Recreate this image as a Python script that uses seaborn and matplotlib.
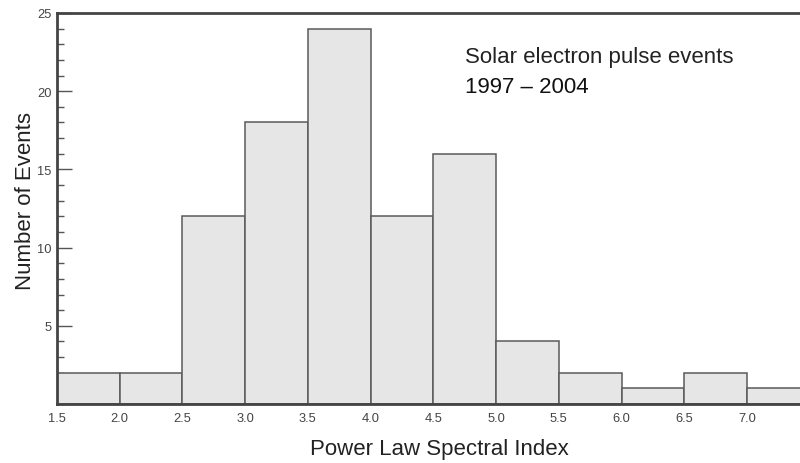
import numpy as np
import pandas as pd
import matplotlib
matplotlib.use("Agg")
import matplotlib.pyplot as plt
import seaborn as sns
from matplotlib.ticker import MultipleLocator, FixedLocator

bin_edges = [1.5, 2.0, 2.5, 3.0, 3.5, 4.0, 4.5, 5.0, 5.5, 6.0, 6.5, 7.0, 7.5]
counts = [2, 2, 12, 18, 24, 12, 16, 4, 2, 1, 2, 1]
x_tick_labels = ["1.5", "2.0", "2.5", "3.0", "3.5", "4.0", "4.5", "5.0", "5.5", "6.0", "6.5", "7.0"]
y_tick_labels = ["5", "10", "15", "20", "25"]

centers = [(a + b) / 2 for a, b in zip(bin_edges[:-1], bin_edges[1:])]
df = pd.DataFrame({"index": centers, "n": counts})

sns.set_style("white")
plt.rcParams['font.family'] = ['Liberation Sans', 'DejaVu Sans']

fig = plt.figure(figsize=(8, 4.64), dpi=100)
ax = fig.add_axes([0.07125, 0.127, 0.93, 0.843])

sns.histplot(data=df, x="index", weights="n", bins=bin_edges, ax=ax,
             color="#e6e6e6", edgecolor="#5a5a5a", linewidth=1.1, alpha=1.0)

ax.set_xlim(1.5, 7.43)
ax.set_ylim(0, 25)

ax.xaxis.set_major_locator(FixedLocator([float(t) for t in x_tick_labels]))
ax.set_xticklabels(x_tick_labels)
ax.yaxis.set_major_locator(FixedLocator([float(t) for t in y_tick_labels]))
ax.set_yticklabels(y_tick_labels)
ax.yaxis.set_minor_locator(MultipleLocator(1))

ax.tick_params(axis="y", which="major", direction="in", length=11, width=1.0,
               color="#555555", labelsize=9.3, labelcolor="#444444", pad=4, left=True)
ax.tick_params(axis="y", which="minor", direction="in", length=5, width=1.0,
               color="#555555", left=True)
ax.tick_params(axis="x", which="both", length=0, labelsize=9.3, labelcolor="#444444", pad=6)

for s in ["left", "top", "bottom"]:
    ax.spines[s].set_visible(True)
    ax.spines[s].set_color("#444444")
    ax.spines[s].set_linewidth(2.0)
ax.spines["right"].set_visible(False)

ax.set_xlabel("Power Law Spectral Index", fontsize=16, color="#222222", labelpad=10)
ax.set_ylabel("Number of Events", fontsize=16, color="#222222", labelpad=1)
ax.xaxis.label.set_x(0.514)
ax.yaxis.label.set_y(0.522)

ax.text(0.549, 0.875, "Solar electron pulse events", transform=ax.transAxes,
        fontsize=16, color="#222222", va="baseline", ha="left")
ax.text(0.549, 0.798, "1997 \u2013 2004", transform=ax.transAxes,
        fontsize=16, color="#111111", va="baseline", ha="left", fontweight="medium")

fig.savefig("out.png", dpi=100)
